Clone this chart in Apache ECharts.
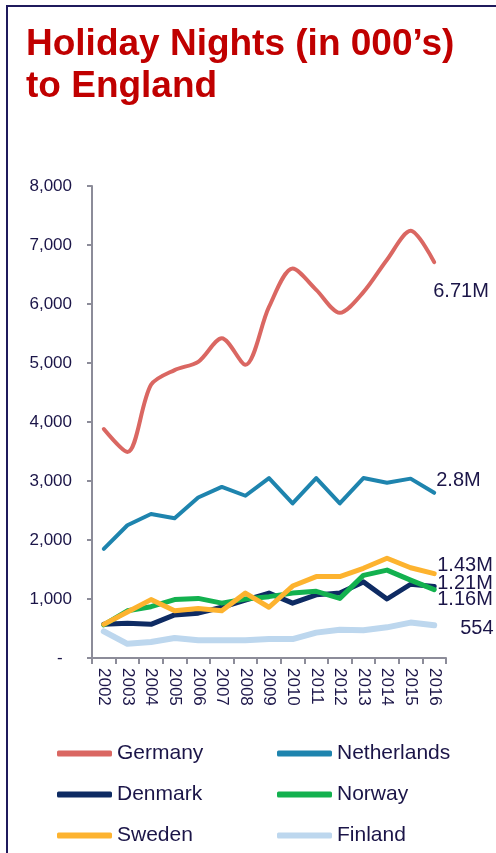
<!DOCTYPE html>
<html>
<head>
<meta charset="utf-8">
<script src="https://cdn.jsdelivr.net/npm/echarts@6/dist/echarts.min.js"></script>
<style>
  html, body { margin: 0; padding: 0; background: #fff; }
  #chart { width: 496px; height: 853px; }
</style>
</head>
<body>
<div id="chart"></div>
<script>
// years on the x axis
const years = ['2002', '2003', '2004', '2005', '2006', '2007', '2008',
  '2009', '2010', '2011', '2012', '2013', '2014', '2015', '2016']

// holiday nights, in thousands
const germany = [3880, 3490, 4630, 4880, 5020, 5420, 4970, 5950, 6600, 6240, 5850, 6200, 6750, 7240, 6710]
const netherlands = [1850, 2250, 2440, 2370, 2720, 2900, 2750, 3050, 2620, 3050, 2620, 3050, 2970, 3040, 2800]
const denmark = [570, 590, 570, 730, 760, 860, 980, 1100, 930, 1070, 1100, 1290, 1000, 1250, 1210]
const norway = [560, 800, 870, 990, 1010, 930, 1000, 1040, 1100, 1130, 1010, 1400, 1490, 1320, 1160]
const sweden = [570, 780, 990, 800, 840, 800, 1100, 860, 1220, 1380, 1380, 1520, 1690, 1530, 1430]
const finland = [450, 240, 270, 340, 300, 300, 300, 320, 320, 430, 480, 470, 520, 600, 554]

const endLabels = {
  Germany: '6.71M',
  Netherlands: '2.8M',
  Denmark: '1.21M',
  Norway: '1.16M',
  Sweden: '1.43M',
  Finland: '554'
}

const navy = '#1B1548'
const font = '"Liberation Sans", Arial, sans-serif'

function line(name, data, color, width, offset, smooth) {
  return {
    name: name,
    type: 'line',
    data: data,
    smooth: smooth || false,
    showSymbol: false,
    symbol: 'none',
    color: color,
    lineStyle: { color: color, width: width, cap: 'round', join: 'round' },
    itemStyle: { color: color },
    endLabel: {
      show: true,
      distance: 0,
      offset: offset,
      color: navy,
      fontSize: 20,
      fontFamily: font,
      formatter: () => endLabels[name]
    }
  }
}

function legendColumn(left, names) {
  return {
    orient: 'vertical',
    left: left,
    top: 743,
    height: 110,
    padding: 0,
    itemWidth: 55,
    itemHeight: 6,
    itemGap: 20,
    icon: 'roundRect',
    data: names,
    textStyle: { color: navy, fontSize: 21, fontFamily: font, lineHeight: 21 }
  }
}

const chart = echarts.init(document.getElementById('chart'))
chart.setOption({
  animation: false,
  title: {
    text: 'Holiday Nights (in 000’s)\nto England',
    left: 26,
    top: 24,
    padding: 0,
    textStyle: {
      color: '#C00000',
      fontSize: 37,
      fontWeight: 'bold',
      fontFamily: font,
      lineHeight: 42
    }
  },
  graphic: [
    {
      type: 'polyline',
      shape: { points: [[7, 853], [7, 6], [496, 6]] },
      style: { stroke: '#1F1A5C', lineWidth: 2, fill: null }
    }
  ],
  grid: { left: 92, right: 50, top: 186, bottom: 195 },
  legend: [
    legendColumn(57, ['Germany', 'Denmark', 'Sweden']),
    legendColumn(277, ['Netherlands', 'Norway', 'Finland'])
  ],
  xAxis: {
    type: 'category',
    data: years,
    axisLine: { lineStyle: { color: '#8C8C99', width: 2 } },
    axisTick: { show: true, length: 6, lineStyle: { color: '#8C8C99', width: 2 } },
    axisLabel: {
      rotate: -90,
      margin: 10,
      color: navy,
      fontSize: 17,
      fontFamily: font
    }
  },
  yAxis: {
    type: 'value',
    min: 0,
    max: 8000,
    interval: 1000,
    splitLine: { show: false },
    axisLine: { show: true, lineStyle: { color: '#8C8C99', width: 2 } },
    axisTick: { show: true, length: 5, lineStyle: { color: '#8C8C99', width: 2 } },
    axisLabel: {
      margin: 20,
      color: navy,
      fontSize: 17,
      fontFamily: font,
      formatter: v => v === 0 ? '-  ' : v.toLocaleString('en-US')
    }
  },
  series: [
    line('Germany', germany, '#DA6762', 4, [-1, 29], 0.3),
    line('Netherlands', netherlands, '#1E84AE', 4, [2, -12]),
    line('Denmark', denmark, '#0E2B63', 5, [3, -3]),
    line('Norway', norway, '#13B14F', 5, [3, 10]),
    line('Sweden', sweden, '#FDB32F', 5, [3, -8]),
    line('Finland', finland, '#BDD7EE', 6, [26, 3])
  ]
})
</script>
</body>
</html>
